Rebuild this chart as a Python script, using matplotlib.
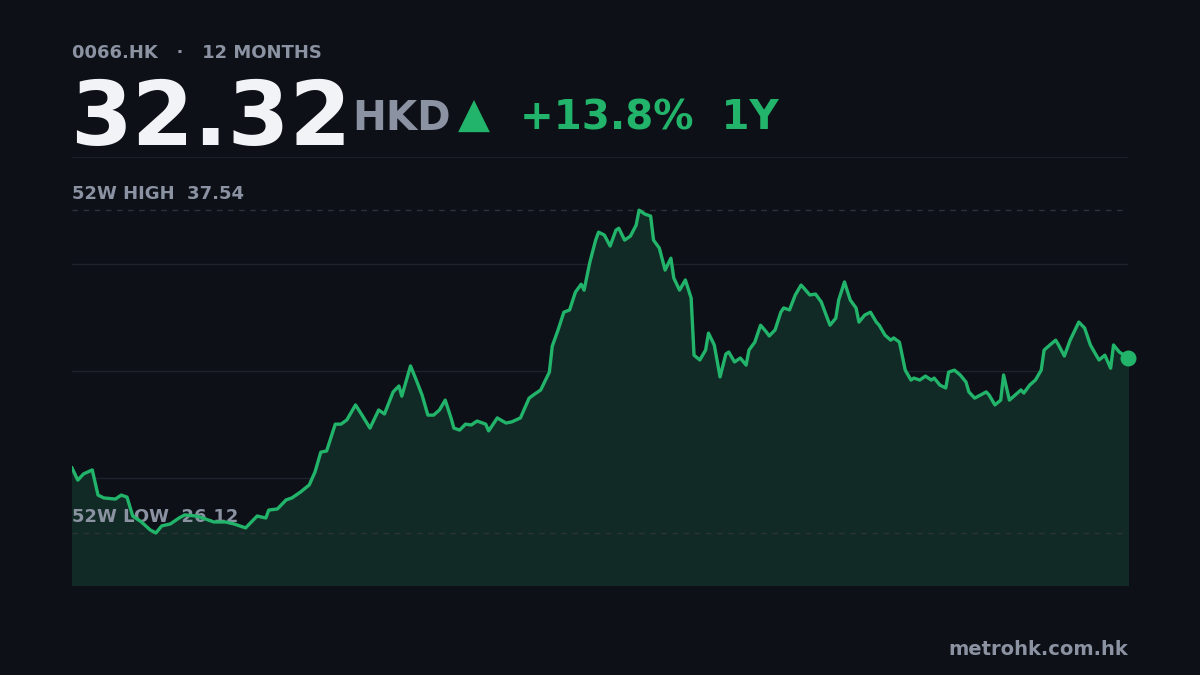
import matplotlib
matplotlib.use('Agg')
import matplotlib.pyplot as plt

BG = '#0d1017'
GREEN = '#22b46a'
GREY = '#8b93a3'

# trading-day offset within the 12-month window, and close price (HKD)
days = [0, 2, 4, 7, 9, 11, 15, 17, 19, 21, 24, 27, 29, 31, 34, 37, 39, 43, 46, 49, 53, 56, 60, 62, 64, 67,
        68, 71, 74, 76, 79, 82, 84, 86, 88, 91, 93, 95, 98, 100, 103, 106, 108, 111, 113, 114, 117, 119,
        121, 123, 125, 127, 129, 131, 132, 134, 136, 138, 140, 143, 144, 147, 150, 152, 155, 158, 160,
        162, 165, 166, 168, 170, 172, 174, 176, 177, 179, 181, 182, 184, 186, 188, 189, 191, 193, 195,
        196, 198, 200, 201, 203, 205, 207, 208, 210, 212, 214, 215, 217, 219, 220, 222, 224, 226, 227,
        229, 231, 233, 234, 236, 238, 240, 241, 243, 245, 246, 248, 250, 252, 253, 255, 257, 259, 260,
        262, 264, 265, 267, 269, 271, 272, 274, 276, 278, 279, 281, 283, 284, 286, 288, 290, 291, 293,
        295, 297, 298, 300, 302, 303, 305, 307, 309, 310, 312, 314, 316, 317, 319, 321, 322, 324, 326,
        328, 329, 331, 333, 335, 336, 338, 340, 341, 343, 345, 347, 348, 350, 352, 354, 355, 357, 359,
        360, 362, 365]
prices = [28.42, 27.99, 28.21, 28.35, 27.46, 27.36, 27.32, 27.46, 27.39, 26.72, 26.51, 26.23, 26.12,
          26.37, 26.44, 26.65, 26.76, 26.72, 26.62, 26.51, 26.51, 26.44, 26.30, 26.51, 26.72, 26.65,
          26.93, 26.97, 27.29, 27.36, 27.57, 27.82, 28.28, 28.98, 29.02, 29.97, 29.97, 30.12, 30.65,
          30.33, 29.83, 30.47, 30.33, 31.11, 31.32, 30.96, 32.03, 31.53, 31.00, 30.29, 30.29, 30.47,
          30.82, 30.19, 29.83, 29.76, 29.97, 29.94, 30.08, 29.97, 29.73, 30.19, 30.01, 30.05, 30.19,
          30.89, 31.04, 31.18, 31.81, 32.73, 33.30, 33.93, 34.01, 34.64, 34.92, 34.71, 35.70, 36.48,
          36.76, 36.66, 36.27, 36.83, 36.90, 36.48, 36.62, 37.01, 37.54, 37.40, 37.33, 36.48, 36.20,
          35.42, 35.84, 35.14, 34.71, 35.07, 34.43, 32.41, 32.24, 32.59, 33.19, 32.77, 31.64, 32.45,
          32.52, 32.17, 32.31, 32.06, 32.59, 32.87, 33.47, 33.23, 33.09, 33.30, 33.93, 34.08, 34.01,
          34.54, 34.89, 34.78, 34.54, 34.57, 34.29, 34.01, 33.47, 33.72, 34.36, 35.00, 34.36, 34.08,
          33.58, 33.83, 33.93, 33.58, 33.47, 33.12, 32.94, 33.02, 32.87, 31.88, 31.53, 31.60, 31.53,
          31.67, 31.53, 31.60, 31.35, 31.25, 31.81, 31.88, 31.71, 31.46, 31.11, 30.89, 31.00, 31.11,
          31.00, 30.65, 30.82, 31.71, 30.82, 31.00, 31.18, 31.07, 31.35, 31.53, 31.88, 32.59, 32.77,
          32.94, 32.77, 32.38, 32.94, 33.37, 33.58, 33.37, 32.77, 32.41, 32.24, 32.41, 31.95, 32.77,
          32.52, 32.32]

high_52w = 37.54
low_52w = 26.12
y_min, y_max = 24.28, 39.42

fig = plt.figure(figsize=(12, 6.75), dpi=100, facecolor=BG)
ax = fig.add_axes([0.06, 1 - 585 / 675, 0.88, (585 - 157) / 675])
ax.set_facecolor(BG)
ax.set_xlim(days[0], days[-1])
ax.set_ylim(y_min, y_max)

step = (y_max - y_min) / 4
for i in range(1, 4):
    ax.axhline(y_min + i * step, color='#1f242c', lw=1, zorder=1)
ax.axhline(y_max, color='#1f242c', lw=1.2, zorder=1)

ax.fill_between(days, prices, y_min, color='#122a25', zorder=2)
ax.plot(days, prices, color=GREEN, lw=2.4, zorder=4, solid_joinstyle='round')
ax.scatter([days[-1]], [prices[-1]], s=110, color=GREEN, zorder=5, clip_on=False)

ax.axhline(high_52w, color='#2c323b', lw=1, ls=(0, (4, 4)), zorder=3)
ax.axhline(low_52w, color='#2c323b', lw=1, ls=(0, (4, 4)), zorder=3)
ax.text(0, high_52w + 0.25, f'52W HIGH  {high_52w:.2f}', color=GREY, fontsize=13,
        fontweight='bold', va='bottom', zorder=3)
ax.text(0, low_52w + 0.25, f'52W LOW  {low_52w:.2f}', color=GREY, fontsize=13,
        fontweight='bold', va='bottom', zorder=3)

for sp in ax.spines.values():
    sp.set_visible(False)
ax.set_xticks([])
ax.set_yticks([])

# header
fig.text(72 / 1200, 1 - 58 / 675, '0066.HK   ·   12 MONTHS', color=GREY, fontsize=13,
         fontweight='bold', va='baseline')
fig.text(70 / 1200, 1 - 145 / 675, f'{prices[-1]:.2f}', color='#f1f3f7', fontsize=64,
         fontweight='bold', va='baseline')
fig.text(352 / 1200, 1 - 130 / 675, 'HKD', color=GREY, fontsize=29,
         fontweight='bold', va='baseline')
fig.text(458 / 1200, 1 - 128 / 675, '▲', color=GREEN, fontsize=30, va='baseline')
fig.text(520 / 1200, 1 - 129 / 675, '+13.8%  1Y', color=GREEN, fontsize=29,
         fontweight='bold', va='baseline')
fig.text(1128 / 1200, 1 - 655 / 675, 'metrohk.com.hk', color=GREY, fontsize=14,
         fontweight='bold', ha='right', va='baseline')

fig.savefig('out.png', dpi=100, facecolor=BG)
